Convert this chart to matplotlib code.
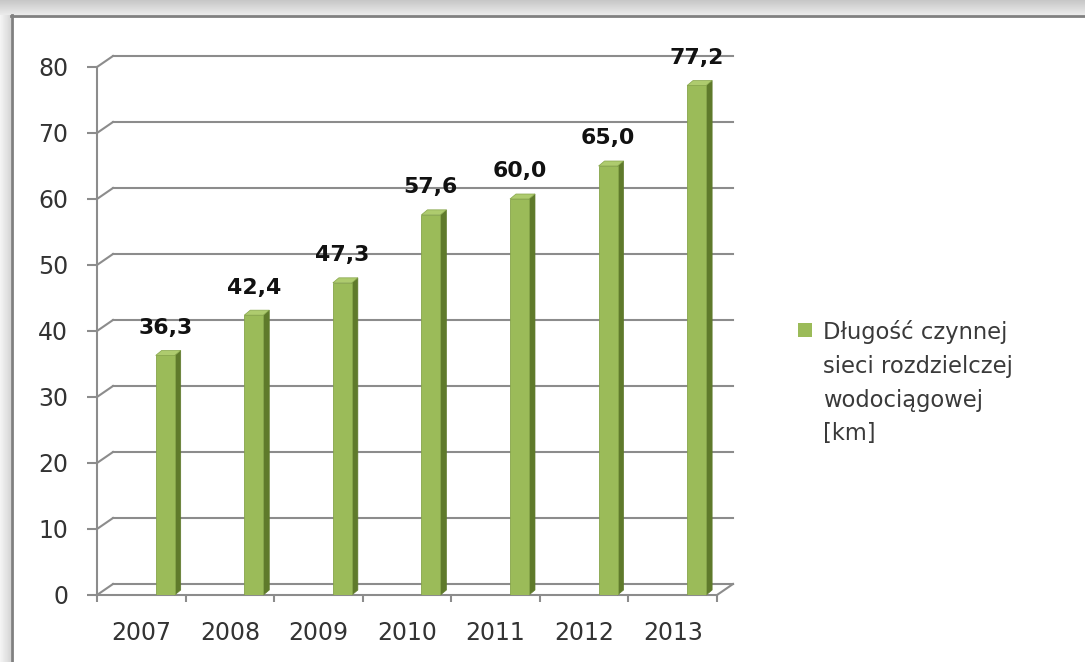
import numpy as np
import matplotlib
matplotlib.use("Agg")
import matplotlib.pyplot as plt
from matplotlib.patches import Polygon, Rectangle

# ---- data ----
years = ["2007", "2008", "2009", "2010", "2011", "2012", "2013"]
values = [36.3, 42.4, 47.3, 57.6, 60.0, 65.0, 77.2]
yticks = [0, 10, 20, 30, 40, 50, 60, 70, 80]
legend_label = "Długość czynnej\nsieci rozdzielczej\nwodociągowej\n[km]"

W, H, DPI = 1085, 662, 100
fig = plt.figure(figsize=(W / DPI, H / DPI), dpi=DPI)
fig.patch.set_facecolor("white")

# ---- frame decoration (shadowed border) ----
bg = fig.add_axes([0, 0, 1, 1], zorder=-10)
bg.set_xlim(0, W)
bg.set_ylim(H, 0)
bg.axis("off")
grad_top = np.linspace(0.78, 0.92, 16).reshape(-1, 1)
bg.imshow(np.repeat(grad_top, 10, axis=1), extent=(0, W, 15, 0), cmap="gray",
          vmin=0, vmax=1, aspect="auto", interpolation="bilinear")
grad_left = np.linspace(0.96, 0.84, 12).reshape(1, -1)
bg.imshow(np.repeat(grad_left, 10, axis=0), extent=(0, 11, H, 15), cmap="gray",
          vmin=0, vmax=1, aspect="auto", interpolation="bilinear")
bg.plot([11, W], [15.5, 15.5], color="#808080", lw=2)
bg.plot([11.5, 11.5], [15, H], color="#808080", lw=2)
bg.set_xlim(0, W)
bg.set_ylim(H, 0)

# ---- main axes (front plane) ----
x0, x1, yb, yt = 97, 717, 595, 67
ax = fig.add_axes([x0 / W, (H - yb) / H, (x1 - x0) / W, (yb - yt) / H])
n = len(years)
ax.set_xlim(-0.5, n - 0.5)
ax.set_ylim(0, 80)
ax.patch.set_alpha(0)

ppx = ax.bbox.width / n          # pixels per x unit
ppy = ax.bbox.height / 80.0      # pixels per y unit
ddx, ddy = 16 / ppx, 11 / ppy    # depth of the back wall
sdx, sdy = 6 / ppx, 5 / ppy      # depth of the bars

grid_col = "#8c8c8c"
# back wall gridlines + diagonal connectors
for v in yticks:
    ax.plot([-0.5 + ddx, n - 0.5 + ddx], [v + ddy, v + ddy], color=grid_col,
            lw=1.5, clip_on=False, zorder=1)
    ax.plot([-0.5, -0.5 + ddx], [v, v + ddy], color=grid_col, lw=1.5,
            clip_on=False, zorder=1)
# floor right edge
ax.plot([n - 0.5, n - 0.5 + ddx], [0, ddy], color=grid_col, lw=1.5,
        clip_on=False, zorder=1)

# spines
for s in ["top", "right"]:
    ax.spines[s].set_visible(False)
for s in ["left", "bottom"]:
    ax.spines[s].set_color(grid_col)
    ax.spines[s].set_linewidth(1.5)

# bars
xs = np.arange(n)
off = 0.27
bw = 19 / ppx
front = "#9bbb59"
side = "#5f7a2b"
top = "#aecb6e"
bars = ax.bar(xs + off, values, width=bw, color=front, edgecolor="#86a54a",
              linewidth=0.6, zorder=3)
for xi, v in zip(xs + off, values):
    r = xi + bw / 2
    l = xi - bw / 2
    ax.add_patch(Polygon([(r, 0), (r + sdx, sdy), (r + sdx, v + sdy), (r, v)],
                         closed=True, facecolor=side, edgecolor=side, lw=0.5,
                         zorder=2.9, clip_on=False))
    ax.add_patch(Polygon([(l, v), (r, v), (r + sdx, v + sdy), (l + sdx, v + sdy)],
                         closed=True, facecolor=top, edgecolor="#86a54a", lw=0.5,
                         zorder=3.1, clip_on=False))
    ax.annotate(f"{v:.1f}".replace(".", ","), (xi, v), xytext=(0, 15.5),
                textcoords="offset points", ha="center", va="baseline",
                fontsize=15.8, fontweight="bold", color="#111111",
                family="DejaVu Sans", zorder=5, annotation_clip=False)

# ticks
ax.set_yticks(yticks)
ax.set_yticklabels([str(t) for t in yticks])
ax.tick_params(axis="y", direction="out", length=7.2, width=1.5, color=grid_col,
               pad=13.5, labelsize=17, labelcolor="#333333")
ax.set_xticks(xs)
ax.set_xticklabels(years)
ax.set_xticks(np.arange(-0.5, n, 1.0), minor=True)
ax.tick_params(axis="x", which="major", length=0, pad=18.5, labelsize=17,
               labelcolor="#333333")
ax.tick_params(axis="x", which="minor", direction="out", length=5, width=1.5,
               color=grid_col)

# legend (marker aligned with first line, as in the source)
fig.patches.append(Rectangle((798 / W, 1 - 337 / H), 14 / W, 14 / H,
                             transform=fig.transFigure, facecolor=front,
                             edgecolor="none"))
fig.text(823 / W, 1 - 320 / H, legend_label, ha="left", va="top",
         fontsize=16.3, linespacing=1.6, color="#3a3a3a", family="DejaVu Sans")

fig.savefig("out.png", dpi=DPI)
